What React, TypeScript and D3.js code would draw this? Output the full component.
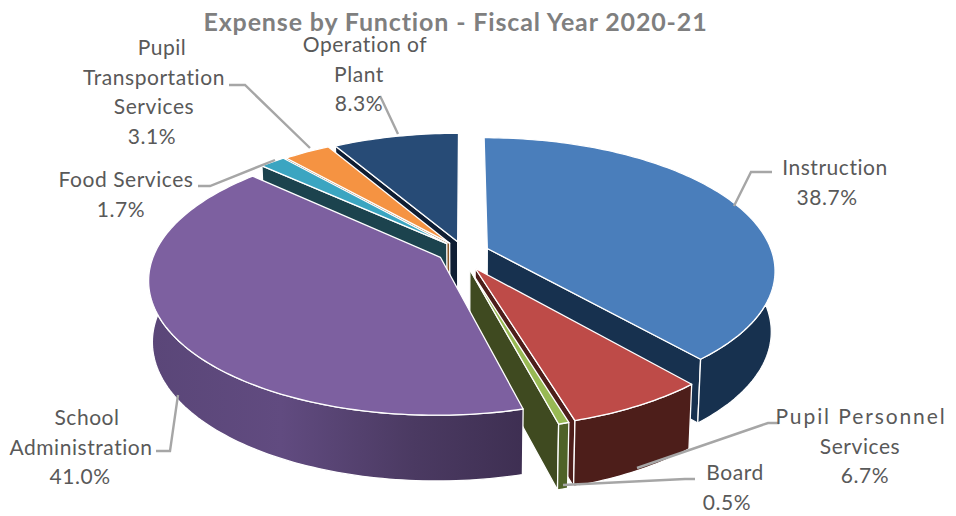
import React from "react";
import * as d3 from "d3";

const names = ["Instruction", "Pupil Personnel Services", "Board", "School Administration", "Food Services", "Pupil Transportation Services", "Operation of Plant"];
const values = [38.7, 6.7, 0.5, 41.0, 1.7, 3.1, 8.3];
const topColors = ["#4a7ebb", "#be4b48", "#98b954", "#7d60a0", "#3ba5c1", "#f59342", "#274b76"];
const faceColors = ["#17314f", "#4d1e1a", "#3f4a20", "#3d2f52", "#1c434e", "#8a5a2c", "#0f1e33"];
const wallColors = ["#17314f", "#4d1e1a", "#4f6228", "url(#schoolWall)", "#1c434e", "#8a5a2c", "#0f1e33"];
const drawOrder = [6, 5, 4, 0, 1, 2, 3];

const labelLines = [
  { lines: ["Instruction", "38.7%"], xs: [835, 827], y: 175, leader: [[734, 206], [751, 172], [772, 172]] },
  { lines: ["Pupil Personnel", "Services", "6.7%"], xs: [861, 860, 865], y: 424, ls: 1.9, leader: [[637, 468], [768, 423], [779, 423]] },
  { lines: ["Board", "0.5%"], xs: [735, 727], y: 480, leader: [[563, 485], [685, 479], [695, 479]] },
  { lines: ["School", "Administration", "41.0%"], xs: [87, 81, 80], y: 425, leader: [[178, 395], [170, 451], [156, 451]] },
  { lines: ["Food Services", "1.7%"], xs: [126, 121], y: 187, leader: [[275, 160], [210, 186], [198, 186]] },
  { lines: ["Pupil", "Transportation", "Services", "3.1%"], xs: [162, 154, 154, 152], y: 55, leader: [[310, 148], [245, 85], [229, 85]] },
  { lines: ["Operation of", "Plant", "8.3%"], xs: [365, 359, 359], y: 52, leader: [[398, 134], [382, 100], [380, 96]] },
];

const cx = 464, cy = 254, rx = 285, ry = 130, persp = 0.16, ex = 25, ey = 16, depth = 60;
const nudgeX = [0, -1, -1, -2, 0, 0, 0];
const nudgeY = [0, 0, 0, -5, 1, 2, 3];
const font = "Lato, 'Open Sans', sans-serif";

function project(theta: number, r: number, mid: number, z: number, n: number): [number, number] {
  const dx = Math.sin(mid), dy = -Math.cos(mid);
  const X = Math.sin(theta) * r, Y = -Math.cos(theta) * r;
  const s = 1 / (1 - persp * (Y + 0.1 * dy));
  const px = (rx * X + ex * dx) * s * (1 - 0.012 * z);
  const py = (ry * Y + ey * dy) * s + z * depth * Math.sqrt(s);
  return [cx + px + nudgeX[n], cy + py + nudgeY[n]];
}

export default function App() {
  const arcs = d3.pie<number>().sort(null)(values);
  const line = d3.line().curve(d3.curveLinear);
  const sweep = (a: number, b: number) => {
    const n = Math.max(2, Math.ceil((b - a) / 0.02));
    return d3.range(n + 1).map((i) => a + ((b - a) * i) / n);
  };
  const faces = drawOrder.map((i) => {
    const { startAngle: a, endAngle: b } = arcs[i];
    const mid = (a + b) / 2;
    const top = [project(a, 0, mid, 0, i), ...sweep(a, b).map((t) => project(t, 1, mid, 0, i))];
    const out: React.ReactNode[] = [];
    const radial = (t: number) => [project(t, 0, mid, 0, i), project(t, 1, mid, 0, i), project(t, 1, mid, 1, i), project(t, 0, mid, 1, i)] as [number, number][];
    const common = { stroke: "#fff", strokeWidth: 1.3, strokeLinejoin: "round" as const };
    if (-Math.cos(a - Math.PI / 2) > 0.01) out.push(<path key="s" d={line(radial(a))! + "Z"} fill={faceColors[i]} {...common} />);
    if (-Math.cos(b + Math.PI / 2) > 0.01) out.push(<path key="e" d={line(radial(b))! + "Z"} fill={faceColors[i]} {...common} />);
    const wa = Math.max(a, Math.PI * 0.46), wb = Math.min(b, Math.PI * 1.54);
    if (wb > wa) {
      const ts = sweep(wa, wb);
      const wall = [...ts.map((t) => project(t, 1, mid, 0, i)), ...ts.slice().reverse().map((t) => project(t, 1, mid, 1, i))];
      out.push(<path key="w" d={line(wall)! + "Z"} fill={wallColors[i]} {...common} />);
    }
    out.push(<path key="t" d={line(top)! + "Z"} fill={topColors[i]} {...common} />);
    return <g key={i}>{out}</g>;
  });

  return (
    <svg width={956} height={516} style={{ position: "absolute", left: 0, top: 0, background: "#fff" }}>
      <defs>
        <linearGradient id="schoolWall" gradientUnits="userSpaceOnUse" x1={150} x2={525} y1={0} y2={0}>
          <stop offset="0" stopColor="#5a4678" />
          <stop offset="0.35" stopColor="#614b80" />
          <stop offset="0.7" stopColor="#4b3a62" />
          <stop offset="1" stopColor="#3e2f52" />
        </linearGradient>
      </defs>
      <text x={455.5} y={31} textAnchor="middle" fontFamily={font} fontWeight={700} fontSize={25} letterSpacing={0.85} fill="#7f7f7f">
        Expense by Function - Fiscal Year 2020-21
      </text>
      {faces}
      {labelLines.map((l, i) => (
        <g key={i}>
          <path d={line(l.leader as [number, number][])!} fill="none" stroke="#a6a6a6" strokeWidth={2.4} />
          <text fontFamily={font} fontSize={21} fill="#595959" textAnchor="middle">
            {l.lines.map((t, j) => (
              <tspan key={j} x={l.xs[j]} y={l.y + j * 29.5} letterSpacing={j === 0 && l.ls ? l.ls : 0.55}>{t}</tspan>
            ))}
          </text>
        </g>
      ))}
    </svg>
  );
}
